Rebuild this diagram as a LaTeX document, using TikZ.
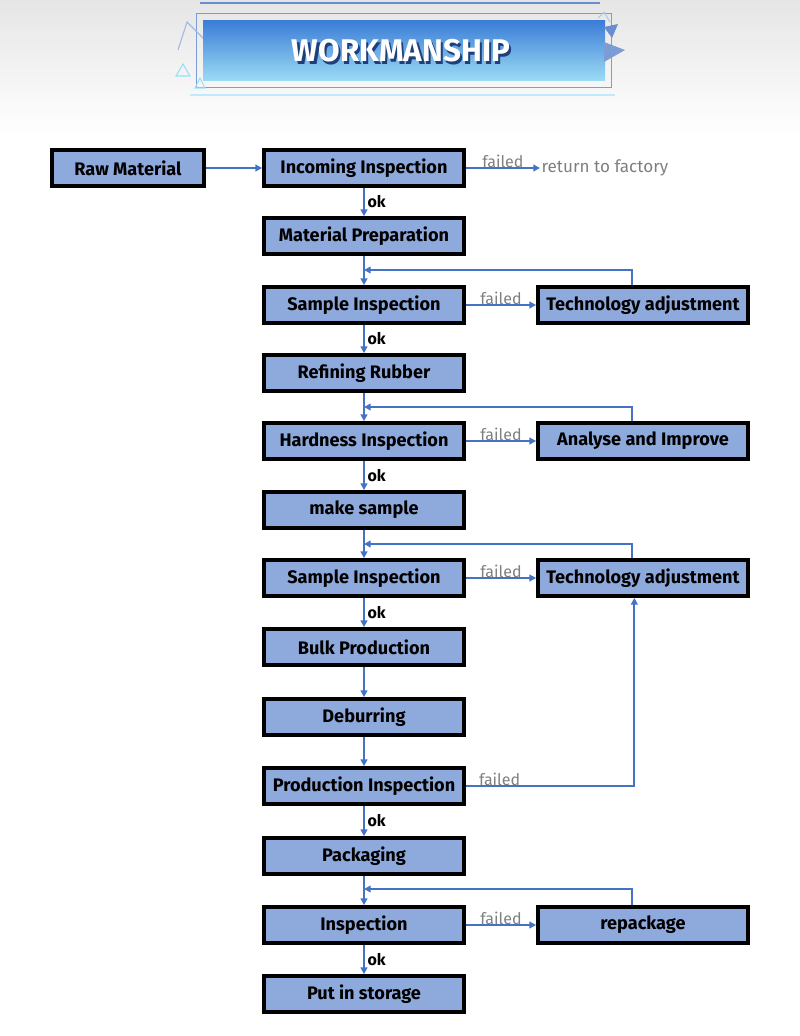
\documentclass[tikz,border=0pt]{standalone}
\usepackage{fontspec}
\setmainfont{Fira Sans}
\usepackage{tikz}
\usetikzlibrary{
  positioning,
  arrows.meta
}
\usepackage{xcolor}
\definecolor{boxfill}{HTML}{8EA9DB}
\definecolor{flowblue}{HTML}{4472C4}
\definecolor{failgray}{HTML}{7F7F7F}
\definecolor{bannertop}{HTML}{3A7CD6}
\definecolor{bannerbot}{HTML}{9ADAF4}
\definecolor{shadowblue}{HTML}{1F3F7A}
\newcommand{\shadowtitle}[1]{\makebox[0pt][l]{\hspace{1.8pt}\raisebox{-1.8pt}{\color{shadowblue}#1}}#1}
\tikzset{
  procbox/.style={draw=black, line width=2.8pt, fill=boxfill, minimum width=150pt,
    minimum height=27pt, inner sep=0pt, font=\fontsize{13.6}{15}\selectfont\bfseries},
  sidebox/.style={procbox, minimum width=157.5pt},
  flow/.style={draw=flowblue, line width=1.3pt, -{Triangle[length=5pt,width=5pt]}},
  failtxt/.style={text=failgray, font=\fontsize{12}{14}\selectfont, inner sep=1pt},
  oktxt/.style={font=\fontsize{12}{14}\selectfont\bfseries, inner sep=2pt}
}

\begin{document}
\begin{tikzpicture}[x=0.75pt, y=-0.75pt]

	\useasboundingbox (0,0) rectangle (800,1036);

	% header band
	\shade[top color=black!10, bottom color=white] (0,0) rectangle (800,135);
	\draw[cyan!25, line width=0.8pt] (190,95) -- (615,95);
	\draw[flowblue!70, line width=0.6pt] (196,13) rectangle (611,87);
	\draw[flowblue!80, line width=1pt] (200,3) -- (600,3);
	\draw[flowblue!50, line width=0.8pt] (178,50) -- (187,22) -- (205,40);
	\draw[cyan!40, line width=0.8pt] (176,76) -- (183,64) -- (190,76) -- cycle;
	\draw[cyan!40, line width=0.8pt] (195,88) -- (200,78) -- (205,88) -- cycle;
	\shade[top color=bannertop, bottom color=bannerbot] (203,20) rectangle (605,80);
	\fill[flowblue!80] (604,27) -- (618,24) -- (612,38) -- cycle;
	\fill[flowblue!70] (604,42) -- (625,50) -- (604,62) -- cycle;
	\draw[flowblue!40, line width=0.8pt] (598,18) -- (604,12) -- (610,22);
	\node (title) [text=white, font=\fontsize{23.5}{26}\selectfont\bfseries] at (401,52) {\shadowtitle{WORKMANSHIP}};

	% process boxes
	\node[procbox, minimum width=114pt] (raw) at (128,168) {Raw Material};
	\node[procbox] (ii) at (364,168) {Incoming Inspection};
	\node[procbox] (mp) at (364,236) {Material Preparation};
	\node[procbox] (si1) at (364,305) {Sample Inspection};
	\node[sidebox] (ta1) at (643,305) {Technology adjustment};
	\node[procbox] (rr) at (364,373) {Refining Rubber};
	\node[procbox] (hi) at (364,441) {Hardness Inspection};
	\node[sidebox] (ai) at (643,441) {Analyse and Improve};
	\node[procbox] (ms) at (364,510) {make sample};
	\node[procbox] (si2) at (364,578) {Sample Inspection};
	\node[sidebox] (ta2) at (643,578) {Technology adjustment};
	\node[procbox] (bp) at (364,647) {Bulk Production};
	\node[procbox] (db) at (364,717) {Deburring};
	\node[procbox] (pi) at (364,786) {Production Inspection};
	\node[procbox] (pk) at (364,856) {Packaging};
	\node[procbox] (ins) at (364,925) {Inspection};
	\node[sidebox] (rp) at (643,925) {repackage};
	\node[procbox] (st) at (364,994) {Put in storage};
	\node[failtxt, anchor=west, font=\fontsize{12.8}{14}\selectfont] (rtf) at (540,168) {return to factory};

	% where the loops come back
	\coordinate (back1) at (364,270);
	\coordinate (back2) at (364,407);
	\coordinate (back3) at (364,544);
	\coordinate (back4) at (364,889);

	% main line
	\draw[flow] (raw) -- (ii);
	\draw[flow] (ii) -- (mp) node[oktxt, midway, right] {ok};
	\draw[flow] (mp) -- (si1);
	\draw[flow] (si1) -- (rr) node[oktxt, midway, right] {ok};
	\draw[flow] (rr) -- (hi);
	\draw[flow] (hi) -- (ms) node[oktxt, midway, right] {ok};
	\draw[flow] (ms) -- (si2);
	\draw[flow] (si2) -- (bp) node[oktxt, midway, right] {ok};
	\draw[flow] (bp) -- (db);
	\draw[flow] (db) -- (pi);
	\draw[flow] (pi) -- (pk) node[oktxt, midway, right] {ok};
	\draw[flow] (pk) -- (ins);
	\draw[flow] (ins) -- (st) node[oktxt, midway, right] {ok};

	% failed branches
	\draw[flow] (ii) -- (rtf) node[failtxt, midway, above=-1.5pt] {failed};
	\draw[flow] (si1) -- (ta1) node[failtxt, midway, above=-1.5pt] {failed};
	\draw[flow] (hi) -- (ai) node[failtxt, midway, above=-1.5pt] {failed};
	\draw[flow] (si2) -- (ta2) node[failtxt, midway, above=-1.5pt] {failed};
	\draw[flow] (ins) -- (rp) node[failtxt, midway, above=-1.5pt] {failed};
	\draw[flow] (pi.east) -| ([xshift=-6.5pt]ta2.south) node[failtxt, pos=0.1, above=-1.5pt] {failed};

	% loops back
	\draw[flow] ([xshift=-8pt]ta1.north) |- (back1);
	\draw[flow] ([xshift=-8pt]ai.north) |- (back2);
	\draw[flow] ([xshift=-8pt]ta2.north) |- (back3);
	\draw[flow] ([xshift=-8pt]rp.north) |- (back4);

\end{tikzpicture}
\end{document}
